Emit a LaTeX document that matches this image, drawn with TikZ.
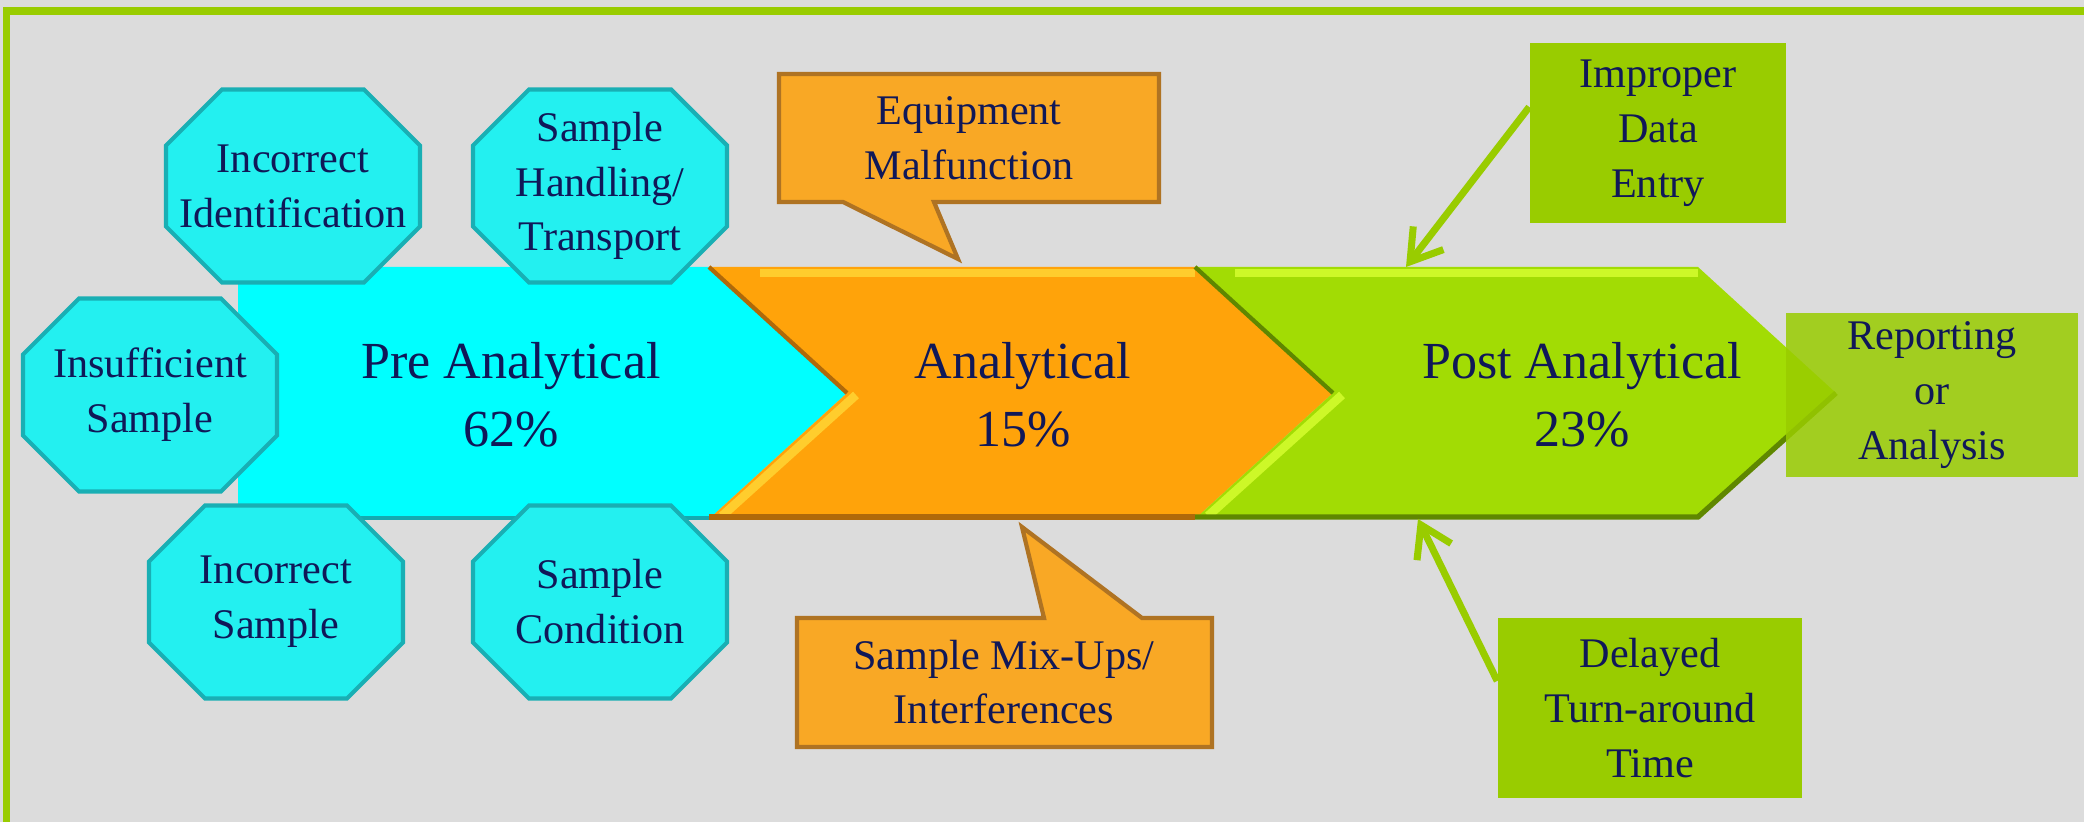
\documentclass[tikz,border=0pt]{standalone}
\usepackage{fontspec}
\setmainfont{Liberation Serif}
\usetikzlibrary{arrows.meta,positioning}

\definecolor{bgcol}{RGB}{220,220,220}
\definecolor{framecol}{RGB}{153,204,0}
\definecolor{inkcol}{RGB}{16,24,88}
\definecolor{precol}{RGB}{0,255,255}
\definecolor{preshade}{RGB}{20,170,175}
\definecolor{octcol}{RGB}{35,240,240}
\definecolor{octedge}{RGB}{25,175,180}
\definecolor{anacol}{RGB}{255,163,10}
\definecolor{anahi}{RGB}{255,205,45}
\definecolor{anashade}{RGB}{175,105,10}
\definecolor{callcol}{RGB}{249,168,37}
\definecolor{calledge}{RGB}{175,115,35}
\definecolor{postcol}{RGB}{162,220,4}
\definecolor{posthi}{RGB}{205,248,40}
\definecolor{postshade}{RGB}{95,135,0}
\definecolor{boxcol}{RGB}{153,204,0}

\begin{document}
\begin{tikzpicture}[x=0.01cm, y=-0.01cm, >={Straight Barb[length=3mm,width=3.8mm]},
  every node/.style={align=center, text=inkcol, inner sep=0pt},
  small/.style={font=\fontsize{12}{15.6}\selectfont},
  big/.style={font=\fontsize{14.8}{19.4}\selectfont},
  octagon/.style={insert path={++(-71,-96.5) -- ++(142,0) -- ++(56,56) -- ++(0,81)
    -- ++(-56,56) -- ++(-142,0) -- ++(-56,-56) -- ++(0,-81) -- cycle}},
  octfill/.style={fill=octcol, draw=octedge, line width=1.2pt},
  callfill/.style={fill=callcol, draw=calledge, line width=1.2pt},
  greenbox/.style={small, rectangle, fill=boxcol},
  feed/.style={->, draw=framecol, line width=2pt}]
  % background and frame
  \fill[bgcol] (0,0) rectangle (2084,822);
  \useasboundingbox (0,0) rectangle (2084,822);
  \draw[framecol, line width=0.075cm] (6.6,822) -- (6.6,11) -- (2084,11);

  % the three stages
  \fill[precol] (238,267) -- (709,267) -- (847,393) -- (709,519) -- (238,519) -- cycle;
  \draw[preshade, line width=1pt] (238,518) -- (709,518);
  \fill[anacol] (709,267) -- (1195,267) -- (1333,393) -- (1195,519) -- (709,519) -- (847,393) -- cycle;
  \draw[anahi, line width=2pt] (760,273) -- (1195,273);
  \draw[anashade, line width=1.2pt] (709,267) -- (847,393);
  \draw[anahi, line width=2.5pt] (856,395) -- (722,516);
  \draw[anashade, line width=1.5pt] (709,517) -- (1195,517);
  \fill[postcol] (1195,267) -- (1698,267) -- (1836,393) -- (1698,519) -- (1195,519) -- (1333,393) -- cycle;
  \draw[posthi, line width=2pt] (1235,273) -- (1698,273);
  \draw[postshade, line width=1.2pt] (1195,267) -- (1333,393);
  \draw[posthi, line width=2.5pt] (1342,395) -- (1208,516);
  \draw[postshade, line width=1.5pt] (1195,517) -- (1698,517) -- (1836,393);
  \coordinate (posttop) at (1406,267);
  \coordinate (postbot) at (1418,519);

  \node[big] (pre) at (511,395) {Pre Analytical\\62\%};
  \node[big] (ana) at (1023,395) {Analytical\\15\%};
  \node[big] (post) at (1582,395) {Post Analytical\\23\%};

  % pre analytical errors
  \path[octfill] (293,186) [octagon] (293,186) node[small] (ident) {Incorrect\\Identification};
  \path[octfill] (600,186) [octagon] (600,186) node[small] (handling) {Sample\\Handling/\\Transport};
  \path[octfill] (150,395) [octagon] (150,395) node[small] (insuff) {Insufficient\\Sample};
  \path[octfill] (276,602) [octagon] (276,602) node[small] (incsample) {Incorrect\\Sample};
  \path[octfill] (600,602) [octagon] (600,602) node[small] (condition) {Sample\\Condition};

  % analytical errors
  \path[callfill] (779,74) -- (1159,74) -- (1159,202) -- (934,202) -- (958,259) -- (843,202) -- (779,202) -- cycle;
  \node[small] (equip) at (969,138) {Equipment\\Malfunction};
  \path[callfill] (797,618) -- (1044,618) -- (1022,527) -- (1142,618) -- (1212,618) -- (1212,747) -- (797,747) -- cycle;
  \node[small] (mixup) at (1004,682) {Sample Mix-Ups/\\Interferences};

  % post analytical errors
  \node[greenbox, minimum width=2.56cm, minimum height=1.80cm] (improper) at (1658,133) {Improper\\Data\\Entry};
  \node[greenbox, minimum width=3.04cm, minimum height=1.80cm] (delayed) at (1650,708) {Delayed\\Turn-around\\Time};
  \node[greenbox, fill opacity=0.85, text opacity=1, minimum width=2.92cm, minimum height=1.64cm] (report) at (1932,395) {Reporting\\or\\Analysis};

  \draw[feed] ([yshift=0.26cm]improper.west) -- (posttop);
  \draw[feed] ([yshift=0.27cm]delayed.west) -- (postbot);
\end{tikzpicture}
\end{document}
